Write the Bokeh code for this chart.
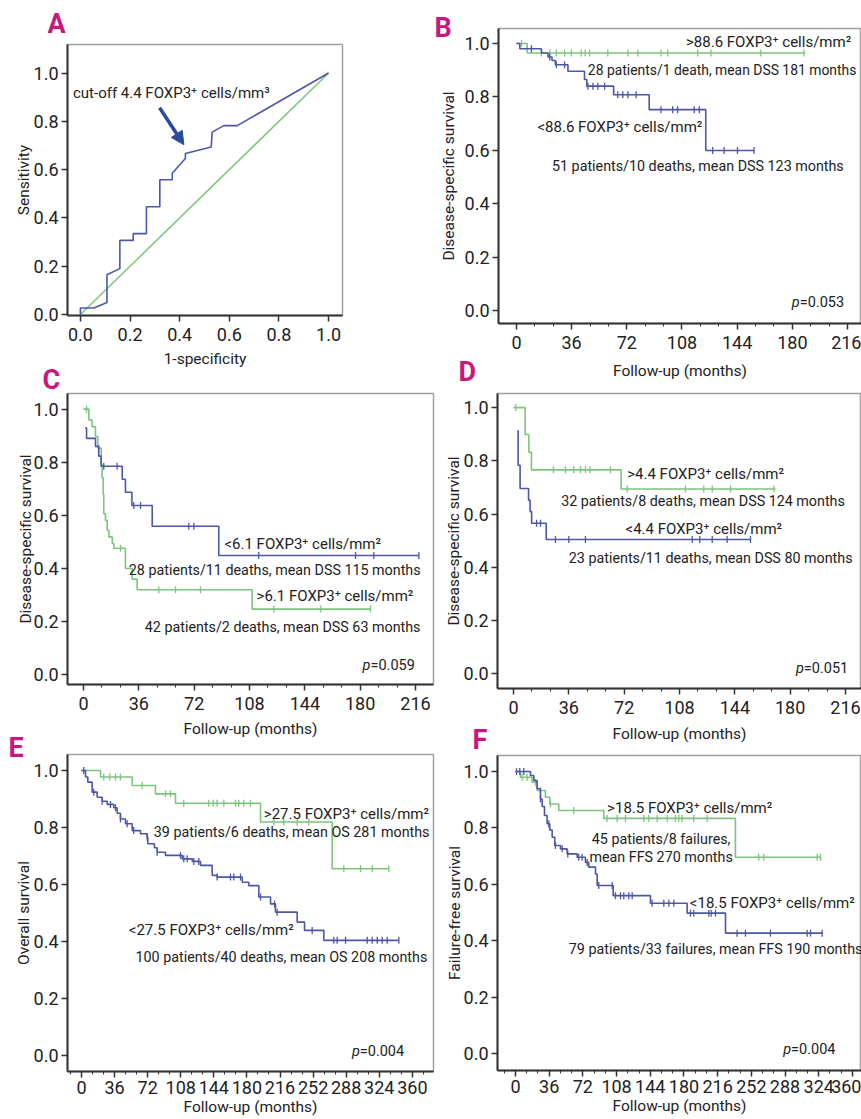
import numpy as np
from jinja2 import Template
from bokeh.plotting import figure
from bokeh.models import Range1d, FixedTicker, Label, Arrow, NormalHead, NumeralTickFormatter
from bokeh.core.properties import value
from bokeh.embed import file_html
from bokeh.resources import INLINE

FONT = "Roboto"
BLUE = "#4d57a5"
GREEN = "#7cc57c"
ARROW_C = "#2c4a9c"
TXT = "#222222"
MAG = "#c8177e"

# ---------------- DATA ----------------
# Panel A: ROC curve
roc_fpr = [0.0, 0.0, 0.054, 0.107, 0.107, 0.159, 0.159, 0.213, 0.213, 0.266, 0.266, 0.32, 0.32,
           0.37, 0.37, 0.423, 0.423, 0.527, 0.531, 0.578, 0.632, 1.0]
roc_tpr = [0.0, 0.027, 0.027, 0.05, 0.165, 0.19, 0.307, 0.307, 0.335, 0.335, 0.446, 0.446, 0.558,
           0.558, 0.585, 0.646, 0.667, 0.694, 0.755, 0.782, 0.782, 1.0]
ref_fpr = [0.0, 1.0]
ref_tpr = [0.0, 1.0]
cutoff_arrow = [0.319, 0.856, 0.417, 0.703]
roc_ticks = [0.0, 0.2, 0.4, 0.6, 0.8, 1.0]

# Panel B
b_hi_t = [0, 7, 188]
b_hi_s = [1.0, 0.964, 0.964]
b_hi_c = [3.3, 16.3, 21.7, 26, 31.4, 35.8, 42.3, 44.9, 47.7, 59.6, 72.7, 79.2, 94.3, 98.7, 118.2, 126.9, 159.4, 187.6]
b_lo_t = [0, 2.2, 16.3, 20.6, 23.2, 25.4, 33.6, 44.4, 45.9, 63.4, 86.6, 123.5, 155]
b_lo_s = [1.0, 0.980, 0.964, 0.949, 0.936, 0.920, 0.896, 0.865, 0.840, 0.808, 0.752, 0.599, 0.599]
b_lo_c = [9.8, 21.7, 26, 31.4, 46.6, 49.9, 53.1, 57.5, 66.1, 69.4, 72.7, 78.1, 94.3, 101.9, 105.2, 116, 119.3,
          128, 135.5, 144.2, 155]

# Panel C
c_hi_t = [0, 3.5, 5.6, 7.8, 9.3, 11.5, 12.1, 12.8, 13.2, 14.3, 15.4, 16.5, 18.7, 19.7, 27.3, 31.7, 34.9, 109.7, 186.7]
c_hi_s = [1.0, 0.959, 0.934, 0.897, 0.854, 0.792, 0.742, 0.680, 0.606, 0.581, 0.544, 0.519, 0.494, 0.476,
          0.40, 0.36, 0.32, 0.247, 0.247]
c_hi_c = [2.0, 10.0, 24.1, 49, 59.9, 76.1, 123.8, 154.2, 186.7]
c_lo_t = [1, 2, 7.8, 9.9, 11.5, 25.2, 27.3, 31.5, 44.7, 88, 218.2]
c_lo_s = [0.929, 0.89, 0.86, 0.823, 0.785, 0.736, 0.687, 0.637, 0.559, 0.449, 0.449]
c_lo_c = [13.2, 21.9, 32.7, 37.1, 68.5, 71.8, 114, 177, 188.9, 218.2]

# Panel D
d_hi_t = [0, 7.6, 10.0, 11.7, 70, 170.5]
d_hi_s = [1.0, 0.899, 0.832, 0.766, 0.694, 0.694]
d_hi_c = [1.5, 26, 33.8, 39.2, 43.6, 46.8, 49.7, 63.1, 74, 111.9, 123.8, 129.3, 141.2, 169.4]
d_lo_t = [2.5, 3.0, 4.3, 9.8, 10.8, 11.8, 21.3, 154.2]
d_lo_s = [0.913, 0.783, 0.696, 0.652, 0.609, 0.565, 0.504, 0.504]
d_lo_c = [15, 17.6, 27.3, 36, 46.8, 116.3, 121.2, 129.3, 139, 154.2]

# Panel E
e_hi_t = [0, 20.7, 55.2, 80.5, 102.3, 194.8, 272.8, 334.4]
e_hi_s = [1.0, 0.977, 0.947, 0.918, 0.885, 0.819, 0.655, 0.655]
e_hi_c = [24.3, 30.8, 37, 42.4, 66, 91.4, 96.8, 111.3, 138.5, 143.3, 147.6, 154.9, 167.6, 171.2, 176.6, 183.9,
          209.3, 220.2, 234.7, 247.4, 285.4, 303.6, 316.3, 334.4]
e_lo_t = [0, 4.4, 6.9, 11.6, 17.1, 22.5, 28, 35.2, 38.8, 42.4, 47.9, 55.2, 64.2, 71.5, 72.2, 79.4, 82.4, 91.4,
          109.6, 120.5, 129.5, 142.2, 147.6, 174.9, 182, 192.9, 205.7, 211.1, 234.7, 242.7, 263.7, 345.3]
e_lo_s = [1.0, 0.977, 0.959, 0.924, 0.906, 0.892, 0.881, 0.869, 0.850, 0.830, 0.813, 0.789, 0.778, 0.766, 0.743,
          0.729, 0.713, 0.702, 0.690, 0.681, 0.667, 0.632, 0.626, 0.608, 0.596, 0.556, 0.532, 0.503, 0.468,
          0.439, 0.404, 0.404]
e_lo_c = [2.5, 13.4, 22.5, 31.6, 37, 42.4, 49.7, 56.9, 71.5, 82.4, 107.7, 111.3, 115, 122.2, 127.6, 147.6, 162.1,
          165.7, 173, 194.8, 210, 212.9, 251, 274.5, 278.2, 287.3, 310.9, 316.3, 321.8, 327.2, 332.6, 345.3]

# Panel F
f_hi_t = [0, 5.3, 17.8, 23.1, 32, 36.7, 46.3, 94.3, 235, 325.9]
f_hi_s = [1.0, 0.980, 0.962, 0.933, 0.909, 0.885, 0.862, 0.834, 0.696, 0.696]
f_hi_c = [7.1, 12.5, 21.4, 26.7, 37.4, 62.3, 97.9, 108.6, 117.5, 137.1, 142.4, 151.4, 162.1, 170.9, 174.5,
          178.1, 190.5, 204.8, 259.9, 265.3, 322.3, 325.9]
f_lo_t = [0, 16, 19.6, 23.1, 26.7, 28.5, 31, 33.8, 36.6, 39.2, 42, 48.1, 55.2, 65.9, 74.8, 78.3, 85.5, 87.3,
          104.4, 144.2, 183.4, 224.4, 327.7]
f_lo_s = [1.0, 0.986, 0.968, 0.939, 0.903, 0.876, 0.844, 0.815, 0.793, 0.767, 0.738, 0.726, 0.708, 0.696,
          0.678, 0.661, 0.637, 0.596, 0.560, 0.533, 0.498, 0.427, 0.427]
f_lo_c = [1.1, 4.6, 8.9, 26.7, 35.6, 42.7, 49.9, 55.9, 67.6, 71.2, 76.6, 89, 103.3, 106.8, 112.2, 115.7, 121.1,
          124.7, 146, 158.5, 163.9, 169.2, 187, 190.6, 206.6, 209.1, 213.7, 236.8, 245.7, 272.4, 311.6, 315.2, 327.7]

surv_ticks = [0.0, 0.2, 0.4, 0.6, 0.8, 1.0]
dss_ticks = [0, 36, 72, 108, 144, 180, 216]
dss_minor = list(range(-12, 241, 12))
os_ticks = [0, 36, 72, 108, 144, 180, 216, 252, 288, 324, 360]
os_minor = list(range(-12, 397, 12))

# annotation texts: (x, y, text, align)
b_notes = [(110.6, 1.005, ">88.6 FOXP3\u207a cells/mm\u00b2", "left"),
           (46.6, 0.899, "28 patients/1 death, mean DSS 181 months", "left"),
           (13.7, 0.687, "<88.6 FOXP3\u207a cells/mm\u00b2", "left"),
           (23.2, 0.541, "51 patients/10 deaths, mean DSS 123 months", "left")]
b_p = (184.8, 0.031, "=0.053")
c_notes = [(91.7, 0.494, "<6.1 FOXP3\u207a cells/mm\u00b2", "left"),
           (29.5, 0.395, "28 patients/11 deaths, mean DSS 115 months", "left"),
           (112.6, 0.296, ">6.1 FOXP3\u207a cells/mm\u00b2", "left"),
           (39.9, 0.178, "42 patients/2 deaths, mean DSS 63 months", "left")]
c_p = (186.7, 0.033, "=0.059")
d_notes = [(74, 0.751, ">4.4 FOXP3\u207a cells/mm\u00b2", "left"),
           (31, 0.650, "32 patients/8 deaths, mean DSS 124 months", "left"),
           (72.9, 0.544, "<4.4 FOXP3\u207a cells/mm\u00b2", "left"),
           (36, 0.434, "23 patients/11 deaths, mean DSS 80 months", "left")]
d_p = (188.9, 0.018, "=0.051")
e_notes = [(198.4, 0.848, ">27.5 FOXP3\u207a cells/mm\u00b2", "left"),
           (78.7, 0.784, "39 patients/6 deaths, mean OS 281 months", "left"),
           (51.5, 0.439, "<27.5 FOXP3\u207a cells/mm\u00b2", "left"),
           (58.8, 0.347, "100 patients/40 deaths, mean OS 208 months", "left")]
e_p = (302.8, 0.015, "=0.004")
f_notes = [(97.9, 0.871, ">18.5 FOXP3\u207a cells/mm\u00b2", "left"),
           (155.6, 0.761, "45 patients/8 failures,", "center"),
           (155.6, 0.696, "mean FFS 270 months", "center"),
           (186.3, 0.533, "<18.5 FOXP3\u207a cells/mm\u00b2", "left"),
           (57, 0.371, "79 patients/33 failures, mean FFS 190 months", "left")]
f_p = (294.5, 0.013, "=0.004")

panel_letters = ["A", "B", "C", "D", "E", "F"]


# ---------------- helpers ----------------
def make_fig(origin, size, frame, xr, yr, xlabel, ylabel, xticks, yticks, minor, xfmt,
             xlab_stand, xstand, ystand):
    ox, oy = origin
    w, h = size
    fl, fr, ft, fb = frame
    p = figure(width=w, height=h, x_range=Range1d(*xr), y_range=Range1d(*yr),
               output_backend="svg", toolbar_location=None,
               min_border_left=fl - ox, min_border_right=ox + w - fr,
               min_border_top=ft - oy, min_border_bottom=oy + h - fb)
    p.grid.visible = False
    p.background_fill_color = "white"
    p.border_fill_color = "white"
    p.outline_line_color = "#a0a0a0"
    p.outline_line_width = 1.5
    p.xaxis.ticker = FixedTicker(ticks=xticks, minor_ticks=minor)
    p.yaxis.ticker = FixedTicker(ticks=yticks)
    p.yaxis.formatter = NumeralTickFormatter(format="0.0")
    if xfmt:
        p.xaxis.formatter = NumeralTickFormatter(format=xfmt)
    for ax in (p.xaxis, p.yaxis):
        ax.axis_line_color = "#333333"
        ax.axis_line_width = 2
        ax.major_tick_line_color = "#333333"
        ax.major_tick_line_width = 1.5
        ax.minor_tick_line_color = "#333333"
        ax.major_tick_in = 0
        ax.major_tick_out = 6
        ax.minor_tick_in = 0
        ax.major_label_text_font = FONT
        ax.major_label_text_font_size = "18px"
        ax.major_label_text_color = TXT
        ax.axis_label_text_font = FONT
        ax.axis_label_text_font_size = "15.5px"
        ax.axis_label_text_font_style = "normal"
        ax.axis_label_text_color = TXT
        ax.major_label_standoff = 3
    p.xaxis.major_label_standoff = xlab_stand
    p.xaxis.minor_tick_out = 3
    p.yaxis.minor_tick_out = 0
    p.xaxis.axis_label = xlabel
    p.yaxis.axis_label = ylabel
    p.xaxis.axis_label_standoff = xstand
    p.yaxis.axis_label_standoff = ystand
    return p


def letter_fig(txt):
    p = figure(width=32, height=36, x_range=Range1d(0, 1), y_range=Range1d(0, 1),
               output_backend="svg", toolbar_location=None, min_border=0,
               x_axis_location=None, y_axis_location=None)
    p.grid.visible = False
    p.outline_line_color = None
    p.background_fill_color = None
    p.border_fill_color = None
    p.text(x=[0.0], y=[1.0], text=[txt], text_font=value(FONT), text_font_size="27px",
           text_font_style="bold", text_color=MAG, text_align="left", text_baseline="top")
    return p


def note(p, x, y, txt, align="left", size=None, style="normal"):
    if size is None:
        if "1 death," in txt:
            size = "13.9px"
        elif "patients" in txt or "mean" in txt:
            size = "14.3px"
        else:
            size = "15px"
    p.add_layout(Label(x=x, y=y, text=txt, text_font=FONT, text_font_size=size, text_font_style=style,
                       text_color=TXT, text_align=align, text_baseline="middle"))


def km(p, t, s, c, color):
    p.step(t, s, mode="after", line_color=color, line_width=1.6)
    tt = np.asarray(t, dtype=float)
    ss = np.asarray(s, dtype=float)
    cy = [ss[max(0, np.searchsorted(tt, ci, side="right") - 1)] for ci in c]
    p.scatter(c, cy, marker="dash", angle=np.pi / 2, size=7, line_color=color, line_width=1.3)


def pval(p, spec):
    x, y, rest = spec
    note(p, x, y, "p", align="right", size="14.5px", style="italic")
    note(p, x, y, rest, align="left", size="14.5px")


# ---------------- Panel A ----------------
pA = make_fig((0, 0), (345, 370), (67, 342, 44, 320), (-0.052, 1.056), (-0.004, 1.118),
              "1-specificity", "Sensitivity", roc_ticks, roc_ticks, [], "0.0", 6, 6, -2)
pA.line(ref_fpr, ref_tpr, line_color=GREEN, line_width=1.5)
pA.line(roc_fpr, roc_tpr, line_color=BLUE, line_width=1.6)
pA.add_layout(Arrow(end=NormalHead(size=13, fill_color=ARROW_C, line_color=ARROW_C),
                    x_start=cutoff_arrow[0], y_start=cutoff_arrow[1],
                    x_end=cutoff_arrow[2], y_end=cutoff_arrow[3],
                    line_color=ARROW_C, line_width=3.5))
note(pA, -0.03, 0.919, "cut-off 4.4 FOXP3\u207a cells/mm\u00b3", size="15px")

# ---------------- Panel B ----------------
pB = make_fig((436, 0), (425, 385), (497, 861, 28, 323), (-11.7, 225.1), (-0.049, 1.056),
              "Follow-up (months)", "Disease-specific survival", dss_ticks, surv_ticks, dss_minor, None, 6, 10, 4)
km(pB, b_hi_t, b_hi_s, b_hi_c, GREEN)
km(pB, b_lo_t, b_lo_s, b_lo_c, BLUE)
for x, y, t, a in b_notes:
    note(pB, x, y, t, a)
pval(pB, b_p)

# ---------------- Panel C ----------------
pC = make_fig((0, 370), (436, 370), (67, 433, 393, 688), (-10.4, 227.7), (-0.037, 1.059),
              "Follow-up (months)", "Disease-specific survival", dss_ticks, surv_ticks, dss_minor, None, 6, 7, -4)
km(pC, c_hi_t, c_hi_s, c_hi_c, GREEN)
km(pC, c_lo_t, c_lo_s, c_lo_c, BLUE)
for x, y, t, a in c_notes:
    note(pC, x, y, t, a)
pval(pC, c_p)

# ---------------- Panel D ----------------
pD = make_fig((436, 385), (425, 365), (497, 861, 393, 688), (-10.4, 226.4), (-0.056, 1.053),
              "Follow-up (months)", "Disease-specific survival", dss_ticks, surv_ticks, dss_minor, None, 6, 8, -2)
km(pD, d_hi_t, d_hi_s, d_hi_c, GREEN)
km(pD, d_lo_t, d_lo_s, d_lo_c, BLUE)
for x, y, t, a in d_notes:
    note(pD, x, y, t, a)
pval(pD, d_p)

# ---------------- Panel E ----------------
pE = make_fig((0, 740), (436, 379), (67, 433, 754, 1071), (-15.2, 383), (-0.056, 1.056),
              "Follow-up (months)", "Overall survival", os_ticks, surv_ticks, os_minor, None, 3, 1, -2)
km(pE, e_hi_t, e_hi_s, e_hi_c, GREEN)
km(pE, e_lo_t, e_lo_s, e_lo_c, BLUE)
for x, y, t, a in e_notes:
    note(pE, x, y, t, a)
pval(pE, e_p)

# ---------------- Panel F ----------------
pF = make_fig((436, 750), (425, 369), (497, 861, 755, 1070), (-19.2, 369.7), (-0.06, 1.057),
              "Follow-up (months)", "Failure-free survival", os_ticks, surv_ticks, os_minor, None, 3, 1, -3)
km(pF, f_hi_t, f_hi_s, f_hi_c, GREEN)
km(pF, f_lo_t, f_lo_s, f_lo_c, BLUE)
for x, y, t, a in f_notes:
    note(pF, x, y, t, a)
pval(pF, f_p)

letters = [letter_fig(t) for t in panel_letters]

models = [pA, pB, pC, pD, pE, pF] + letters
positions = [(0, 0), (436, 0), (0, 370), (436, 385), (0, 740), (436, 750),
             (47, 7), (434, 11), (42, 363), (458, 355), (8, 731), (472, 723)]

PAGE = Template("""{% from macros import embed %}
<!DOCTYPE html>
<html lang="en">
<head>
<meta charset="utf-8">
<title>{{ title }}</title>
{{ bokeh_css if bokeh_css }}
{{ bokeh_js if bokeh_js }}
<style>html, body { margin: 0; padding: 0; background: white; } .cell { position: absolute; }</style>
</head>
<body>
{% for doc in docs %}{% for root in doc.roots %}
<div class="cell" style="left: {{ positions[loop.index0][0] }}px; top: {{ positions[loop.index0][1] }}px;">{{ embed(root) }}</div>
{% endfor %}{% endfor %}
{{ plot_script }}
</body>
</html>
""")

open("out.html", "w").write(file_html(models, INLINE, title="FOXP3 figure", template=PAGE,
                                      template_variables={"positions": positions}))
